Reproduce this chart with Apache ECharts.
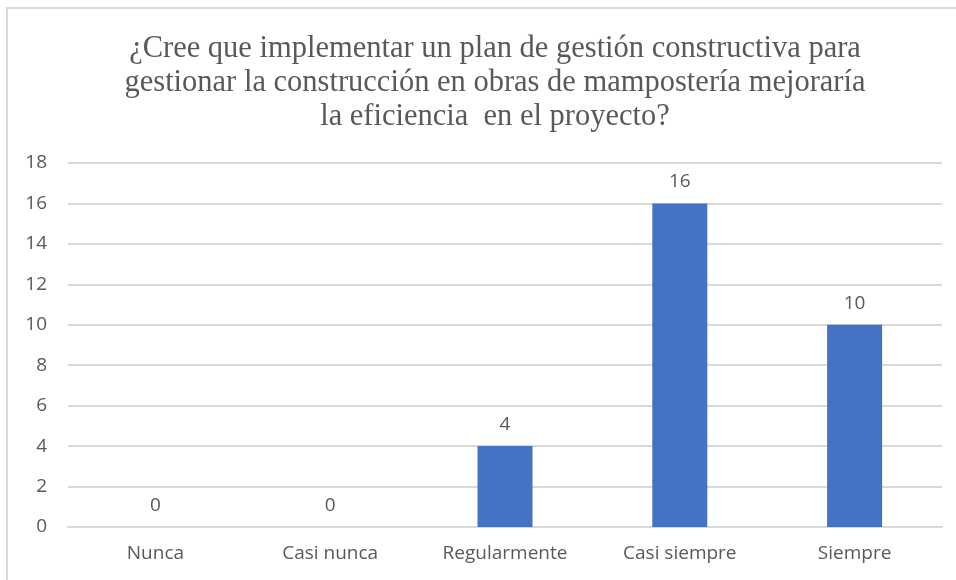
<!DOCTYPE html>
<html>
<head>
<meta charset="utf-8">
<script src="https://cdn.jsdelivr.net/npm/echarts@6/dist/echarts.min.js"></script>
<style>
	html, body { margin: 0; padding: 0; background: #fff; }
	#frame { position: absolute; left: 6px; top: 7px; width: 960px; height: 600px; border: 2px solid #d9d9d9; box-sizing: border-box; }
	#chart { position: absolute; left: 0; top: 0; width: 956px; height: 580px; }
</style>
</head>
<body>
<div id="frame"></div>
<div id="chart"></div>
<script>
// datos de la encuesta
var categories = ['Nunca', 'Casi nunca', 'Regularmente', 'Casi siempre', 'Siempre'];
var values = [0, 0, 4, 16, 10];
var titleText = '¿Cree que implementar un plan de gestión constructiva para\ngestionar la construcción en obras de mampostería mejoraría\nla eficiencia  en el proyecto?';

var chart = echarts.init(document.getElementById('chart'));

var option = {
	animation: false,
	title: {
		text: titleText,
		left: 490,
		top: 27,
		textAlign: 'center',
		textStyle: {
			fontFamily: 'Liberation Serif',
			fontWeight: 'normal',
			fontSize: 30.5,
			lineHeight: 34,
			color: '#595959'
		}
	},
	grid: {
		left: 68,
		right: 14,
		top: 163,
		bottom: 53
	},
	xAxis: {
		type: 'category',
		data: categories,
		axisLine: { show: true, lineStyle: { color: '#d9d9d9', width: 2 } },
		axisTick: { show: false },
		axisLabel: {
			color: '#595959',
			fontFamily: 'Open Sans',
			fontSize: 19,
			margin: 17
		}
	},
	yAxis: {
		type: 'value',
		min: 0,
		max: 18,
		interval: 2,
		axisLine: { show: false },
		axisTick: { show: false },
		splitLine: { lineStyle: { color: '#d9d9d9', width: 2 } },
		axisLabel: {
			color: '#595959',
			fontFamily: 'Open Sans',
			fontSize: 19,
			margin: 21
		}
	},
	series: [{
		type: 'bar',
		data: values,
		barWidth: 55,
		itemStyle: { color: '#4472c4' },
		label: {
			show: true,
			position: 'top',
			distance: 12,
			color: '#595959',
			fontFamily: 'Open Sans',
			fontSize: 19
		}
	}]
};

chart.setOption(option);
</script>
</body>
</html>
